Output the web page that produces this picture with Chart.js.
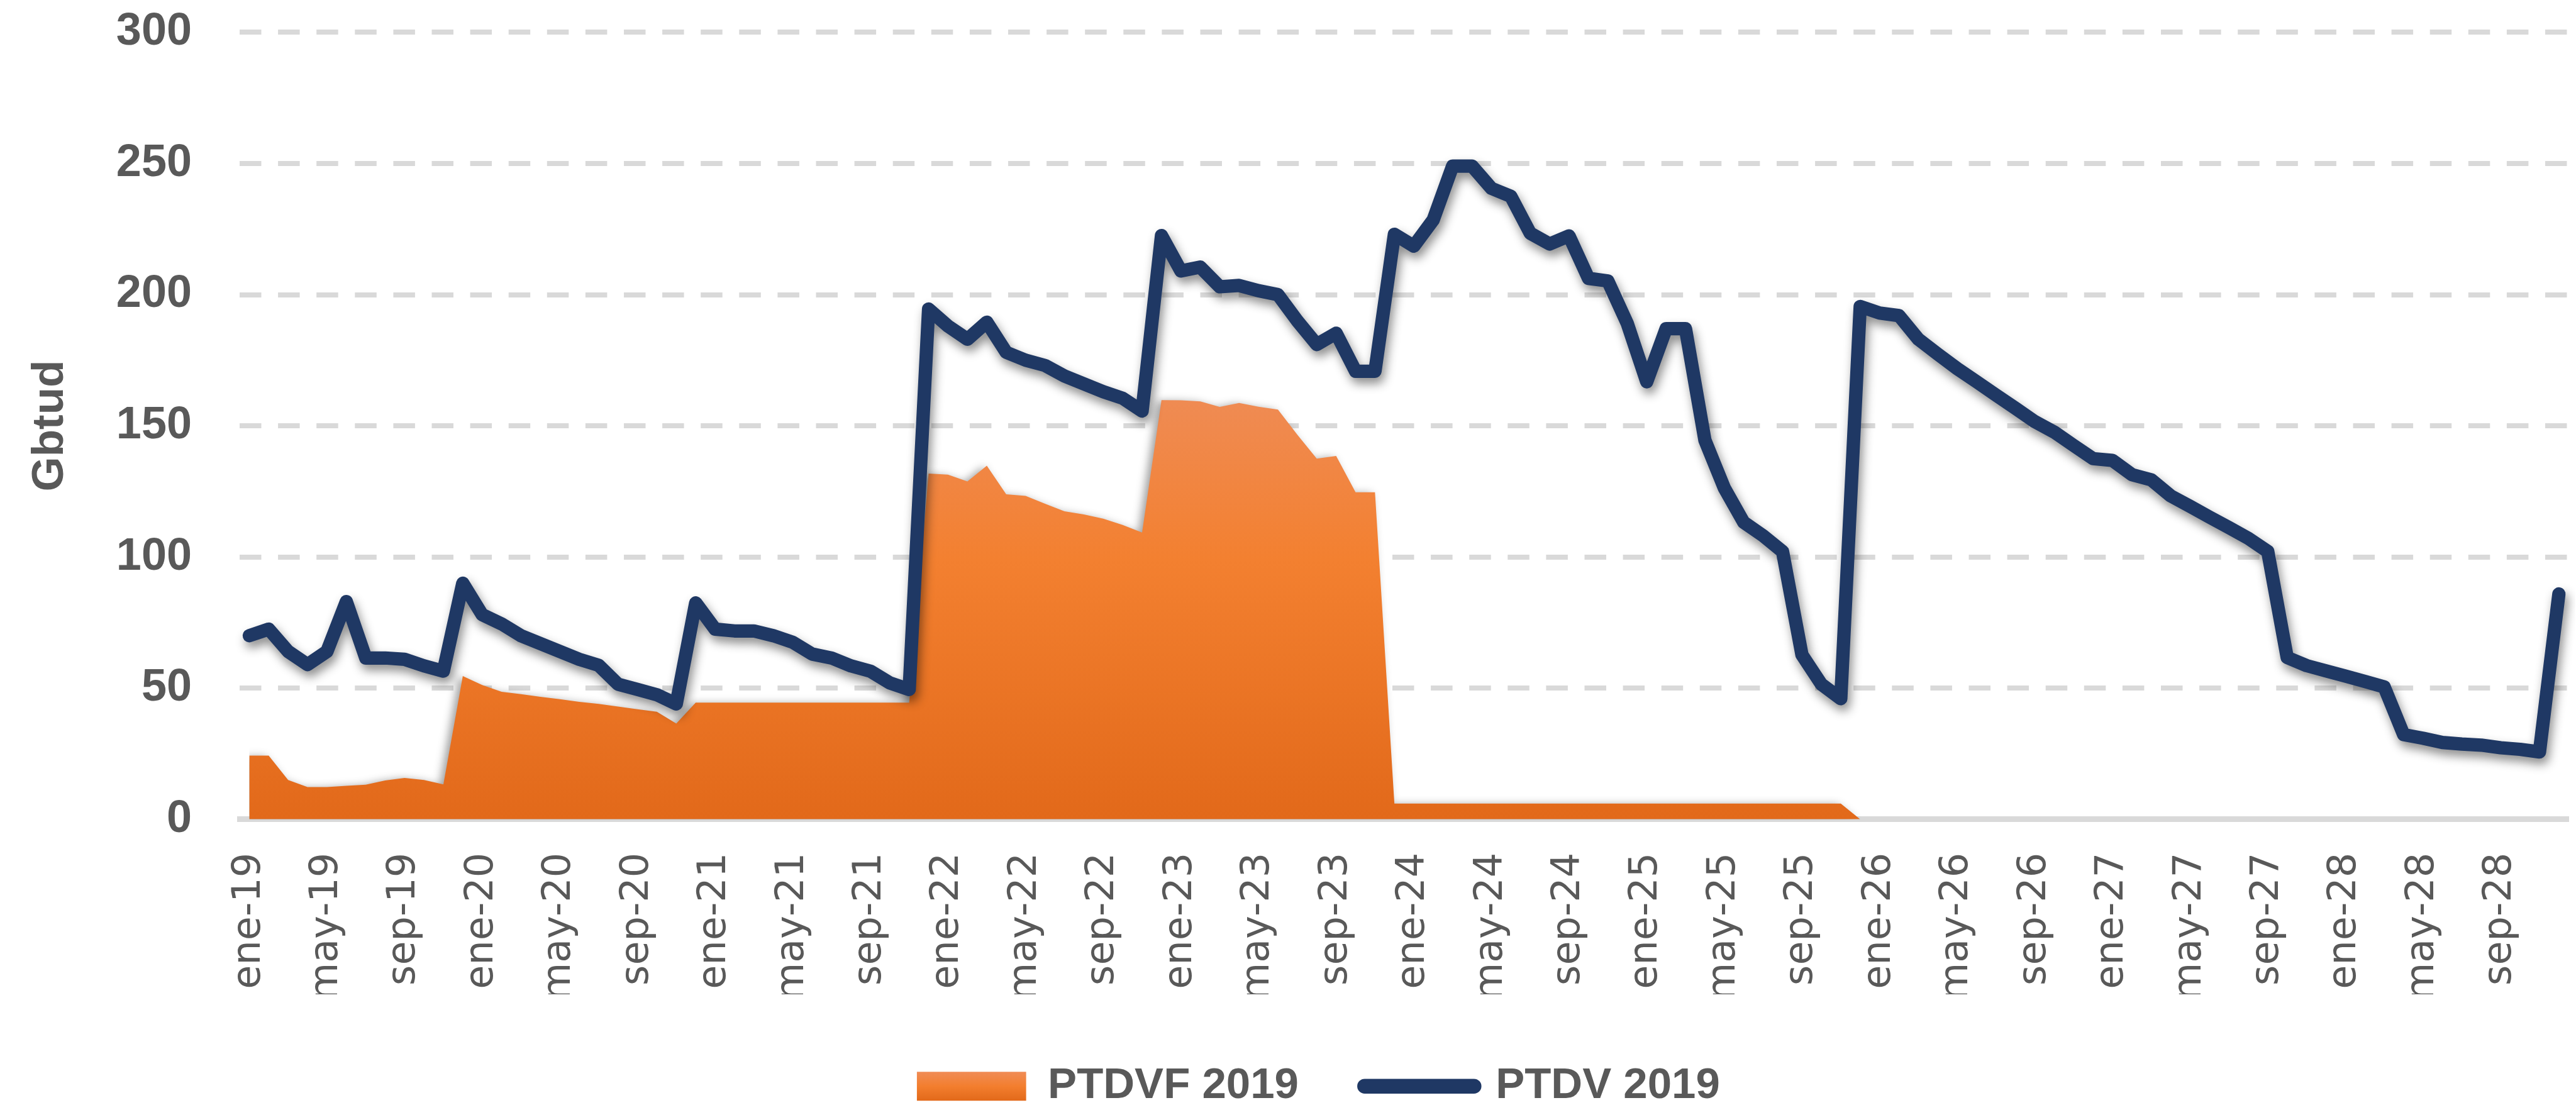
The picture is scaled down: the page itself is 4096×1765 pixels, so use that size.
<!DOCTYPE html>
<html>
<head>
<meta charset="utf-8">
<script src="https://cdn.jsdelivr.net/npm/chart.js@4.4.1/dist/chart.umd.min.js"></script>
<style>
html,body{margin:0;padding:0;background:#ffffff;overflow:hidden}
#c{display:block}
</style>
</head>
<body>
<canvas id="c" width="4096" height="1765"></canvas>
<script>
// ---------------- DATA ----------------
const monthNames = ['ene','feb','mar','abr','may','jun','jul','ago','sep','oct','nov','dic'];
const yearLabels = ['19','20','21','22','23','24','25','26','27','28'];
const categories = yearLabels.flatMap(y => monthNames.map(m => m + '-' + y));
const tickEvery = 4;               // ene, may, sep shown
const yTicks = [0, 50, 100, 150, 200, 250, 300];
const seriesNames = ['PTDVF 2019', 'PTDV 2019'];
const yTitle = 'Gbtud';

// PTDVF 2019 (area) – ene-19 .. dic-25 (ends after index 83)
const ptdvf = [
  24.3, 24.3, 15.0, 12.3, 12.3, 12.8, 13.2, 14.8, 15.8, 15.0, 13.3, 54.6,
  51.2, 48.6, 47.7, 46.7, 45.8, 44.8, 44.0, 43.0, 42.0, 41.0, 36.5, 44.5,
  44.5, 44.5, 44.5, 44.5, 44.5, 44.5, 44.5, 44.5, 44.5, 44.5, 44.5, 131.8,
  131.4, 128.8, 134.8, 123.9, 123.3, 120.3, 117.4, 116.2, 114.6, 112.2, 109.3, 159.8,
  159.7, 159.3, 157.2, 158.7, 157.3, 156.2, 146.6, 137.5, 138.5, 124.7, 124.7, 6,
  6, 6, 6, 6, 6, 6, 6, 6, 6, 6, 6, 6,
  6, 6, 6, 6, 6, 6, 6, 6, 6, 6, 6, 0
];

// PTDV 2019 (line) – ene-19 .. dic-28
const ptdv = [
  70.0, 72.5, 64.0, 59.0, 64.0, 83.0, 61.5, 61.5, 61.0, 58.5, 56.5, 90.0,
  78.0, 74.5, 70.0, 67.0, 64.0, 61.0, 58.7, 51.5, 49.5, 47.5, 44.0, 82.5,
  72.5, 71.8, 71.8, 70.0, 67.5, 63.0, 61.5, 58.5, 56.5, 52.0, 49.5, 194.5,
  188.0, 183.0, 189.5, 178.0, 175.0, 173.0, 169.0, 166.0, 163.0, 160.5, 155.6, 222.5,
  209.0, 210.5, 203.0, 203.5, 201.5, 200.0, 190.0, 181.0, 185.3, 170.8, 170.8, 223.0,
  218.5, 228.5, 249.0, 249.0, 240.5, 237.5, 223.4, 219.3, 222.4, 206.2, 205.2, 189.0,
  166.8, 187.0, 187.0, 144.5, 126.3, 113.2, 108.1, 102.1, 62.7, 51.5, 46.0, 195.5,
  193.0, 192.0, 183.0, 177.3, 171.8, 166.8, 161.7, 156.7, 151.6, 147.6, 142.5, 137.5,
  136.8, 131.4, 129.4, 123.3, 119.3, 115.2, 111.2, 107.1, 102.1, 61.7, 58.6, 56.6,
  54.6, 52.6, 50.5, 32.3, 30.9, 29.3, 28.7, 28.3, 27.3, 26.7, 25.7, 85.9
];

// ---------------- STYLE / LAYOUT ----------------
const K = 0.987;                       // reference -> window scale
const PLOT_LEFT = 386 * K;
const PLOT_TOP = 52 * K;
const PLOT_BOTTOM = 1320 * K;
const PLOT_RIGHT_PAD = 4096 - 4138 * K;
const LEGEND_CENTER_X = 2124 * K;
const LEGEND_CENTER_Y = 1750 * K;
const LEGEND_FONT = 69;
const LEGEND_PAD = 105;
const LEGEND_BOX_H = 46;
const TEXT_GREY = '#595959';
const GRID_GREY = '#D9D9D9';
const NAVY = '#1F3864';

function areaGradient(context) {
  const chart = context.chart;
  const ys = chart.scales && chart.scales.y;
  if (!chart.chartArea || !ys) return '#F07D2E';
  const g = chart.ctx.createLinearGradient(0, ys.getPixelForValue(165), 0, ys.getPixelForValue(0));
  g.addColorStop(0, '#EF8C56');
  g.addColorStop(0.4, '#F38030');
  g.addColorStop(1, '#E2691A');
  return g;
}

const helperPlugin = {
  id: 'helper',
  afterLayout(chart) {
    const lg = chart.legend;
    if (!lg) return;
    const dx = LEGEND_CENTER_X - (lg.left + lg.right) / 2;
    lg.left += dx; lg.right += dx;
    const wantTop = LEGEND_CENTER_Y - LEGEND_PAD - LEGEND_FONT / 2;
    const dy = wantTop - lg.top;
    lg.top += dy; lg.bottom += dy;
  },
  beforeDatasetsDraw(chart) {
    const c = chart.ctx;
    c.save();
    c.shadowColor = 'rgba(0,0,0,0.38)';
    c.shadowBlur = 14;
    c.shadowOffsetX = -6;
    c.shadowOffsetY = 2;
  },
  beforeDatasetDraw(chart, args) {
    if (args.index === 1) {
      const c = chart.ctx;
      c.shadowColor = 'rgba(0,0,0,0.45)';
      c.shadowBlur = 16;
      c.shadowOffsetX = 4;
      c.shadowOffsetY = 9;
    }
  },
  afterDatasetsDraw(chart) {
    chart.ctx.restore();
  }
};

const ctx = document.getElementById('c').getContext('2d');
new Chart(ctx, {
  type: 'line',
  data: {
    labels: categories,
    datasets: [
      {
        label: seriesNames[0],
        data: ptdvf,
        fill: 'origin',
        backgroundColor: areaGradient,
        borderColor: 'rgba(0,0,0,0)',
        borderWidth: 0,
        pointRadius: 0,
        pointHoverRadius: 0,
        pointBorderWidth: 0,
        pointStyle: 'rect',
        tension: 0,
        order: 2
      },
      {
        label: seriesNames[1],
        data: ptdv,
        fill: false,
        borderColor: NAVY,
        backgroundColor: NAVY,
        borderWidth: 21.5 * K,
        pointBorderWidth: 24 * K,
        borderJoinStyle: 'round',
        borderCapStyle: 'round',
        pointRadius: 0,
        pointHoverRadius: 0,
        pointStyle: 'line',
        tension: 0,
        order: 1
      }
    ]
  },
  options: {
    responsive: false,
    maintainAspectRatio: false,
    animation: false,
    devicePixelRatio: 1,
    events: [],
    layout: { padding: { top: PLOT_TOP, right: PLOT_RIGHT_PAD, left: 0, bottom: 0 } },
    plugins: {
      tooltip: { enabled: false },
      legend: {
        position: 'bottom',
        labels: {
          font: { family: 'Liberation Sans', weight: 'bold', size: LEGEND_FONT },
          color: TEXT_GREY,
          usePointStyle: true,
          pointStyleWidth: 176 * K,
          boxHeight: LEGEND_BOX_H,
          padding: LEGEND_PAD,
          sort: (a, b) => a.datasetIndex - b.datasetIndex,
          generateLabels(chart) {
            const items = Chart.defaults.plugins.legend.labels.generateLabels(chart);
            items.forEach(it => {
              if (it.pointStyle === 'line') {
                it.lineCap = 'round';
              } else {
                const g = chart.ctx.createLinearGradient(0, LEGEND_CENTER_Y - LEGEND_BOX_H / 2, 0, LEGEND_CENTER_Y + LEGEND_BOX_H / 2);
                g.addColorStop(0, '#F08C56');
                g.addColorStop(0.5, '#F37E2E');
                g.addColorStop(1, '#E2691A');
                it.fillStyle = g;
              }
            });
            return items;
          }
        }
      }
    },
    scales: {
      x: {
        type: 'category',
        offset: true,
        grid: { display: false, drawTicks: false },
        border: { display: true, color: GRID_GREY, width: 9 * K },
        ticks: {
          autoSkip: false,
          maxRotation: 90,
          minRotation: 90,
          padding: 53,
          color: TEXT_GREY,
          font: { family: 'DejaVu Sans', size: 62 },
          callback(value, index) {
            return index % tickEvery === 0 ? categories[index] : null;
          }
        },
        afterFit(scale) {
          const legendH = scale.chart.legend ? scale.chart.legend.height : 0;
          scale.height = scale.chart.height - legendH - PLOT_BOTTOM;
          scale.paddingLeft = 0;
          scale.paddingRight = 0;
        }
      },
      y: {
        min: yTicks[0],
        max: yTicks[yTicks.length - 1],
        afterBuildTicks(scale) {
          scale.ticks = yTicks.map(v => ({ value: v }));
        },
        grid: { color: GRID_GREY, lineWidth: 8 * K, drawTicks: false },
        border: { display: false, dash: [34.5, 26.6] },
        ticks: {
          padding: 76,
          color: TEXT_GREY,
          font: { family: 'Liberation Sans', weight: 'bold', size: 72 }
        },
        title: {
          display: true,
          text: yTitle,
          color: TEXT_GREY,
          font: { family: 'Liberation Sans', weight: 'bold', size: 71, lineHeight: 1.2 },
          padding: { top: 38, bottom: 0 }
        },
        afterFit(scale) {
          scale.width = PLOT_LEFT;
          scale.paddingTop = 0;
          scale.paddingBottom = 0;
        }
      }
    }
  },
  plugins: [helperPlugin]
});
</script>
</body>
</html>
